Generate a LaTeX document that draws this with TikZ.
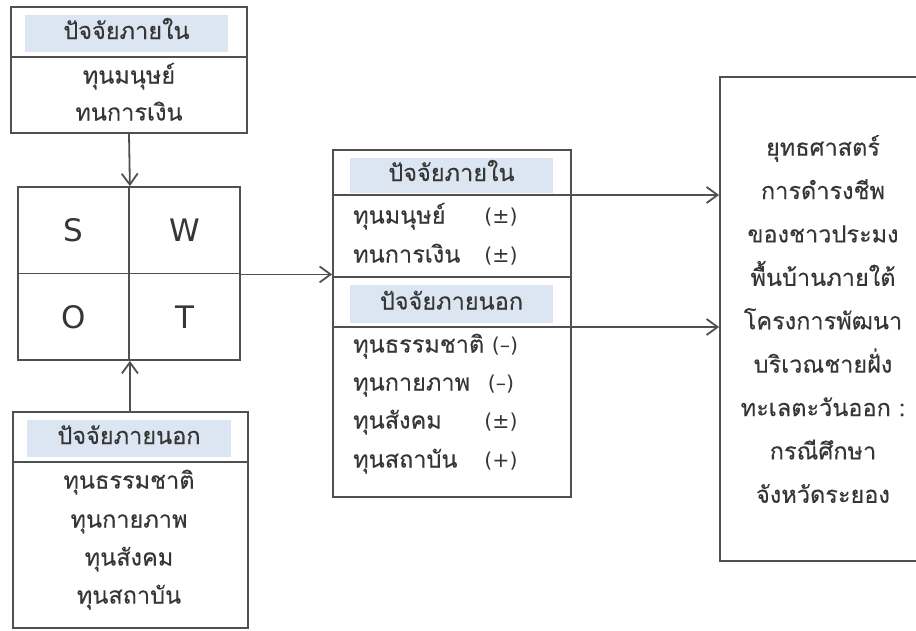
\documentclass[tikz,border=0pt]{standalone}
\usepackage{fontspec}
\newfontfamily\thai[Script=Thai,FakeBold=0.2]{Loma}
\newfontfamily\swotfam{DejaVu Sans}
\newcommand\thfont{\thai\fontsize{23.5}{26}\selectfont}
\newcommand\pmfont{\swotfam\fontsize{20.5}{24}\selectfont}
\usetikzlibrary{arrows.meta}
\definecolor{ln}{HTML}{505050}
\definecolor{hd}{HTML}{DCE6F2}
\definecolor{tx}{HTML}{363636}
\begin{document}
\begin{tikzpicture}[x=1pt,y=-1pt,
  line/.style={draw=ln,line width=1.8pt},
  box/.style={line,rectangle,inner sep=0pt},
  hdr/.style={fill=hd,inner sep=0pt,minimum width=203pt,font=\thfont,text=tx,text height=11pt,text depth=0pt},
  thtxt/.style={font=\thfont,text=tx,inner sep=0pt,text height=11pt,text depth=0pt},
  pm/.style={font=\pmfont,text=tx,inner sep=0pt,text height=11pt,text depth=0pt},
  cell/.style={box,minimum width=111pt,minimum height=86.5pt,font=\swotfam\fontsize{31}{36}\selectfont,text=tx},
  arr/.style={line,-{Straight Barb[length=11pt,width=16pt]}}
]
\fill[white] (0,0) rectangle (916,630);
\clip (0,0) rectangle (916,630);

% top-left box
\node[box,minimum width=236pt,minimum height=126pt] (tl) at (129,70) {};
\node[hdr,minimum height=37pt] (tlh) at (126.5,33.5) {ปัจจัยภายใน};
\draw[line] (11,57) -- (247,57);
\node[thtxt] (tl1) at (129,78) {ทุนมนุษย์};
\node[thtxt] (tl2) at (129,115) {ทนการเงิน};

% SWOT
\node[cell] (s) at (73.5,230.25) {S};
\node[cell] (w) at (184.5,230.25) {W};
\node[cell] (o) at (73.5,316.75) {O};
\node[cell] (t) at (184.5,316.75) {T};

% bottom-left box
\node[box,minimum width=235pt,minimum height=216pt] (bl) at (130.5,520) {};
\node[hdr,minimum height=37pt,minimum width=204pt] (blh) at (129,438.5) {ปัจจัยภายนอก};
\draw[line] (13,462) -- (248,462);
\node[thtxt] (bl1) at (129,483) {ทุนธรรมชาติ};
\node[thtxt] (bl2) at (129,522) {ทุนกายภาพ};
\node[thtxt] (bl3) at (129,560) {ทุนสังคม};
\node[thtxt] (bl4) at (129,598) {ทุนสถาบัน};

% middle boxes
\node[box,minimum width=238pt,minimum height=127pt] (mi) at (452,213.5) {};
\node[hdr,minimum height=35pt] (mih) at (451.5,175.5) {ปัจจัยภายใน};
\node[thtxt,anchor=west] (mi1) at (353,218) {ทุนมนุษย์};
\node[pm] (mi1p) at (501,218) {(±)};
\node[thtxt,anchor=west] (mi2) at (353,257) {ทนการเงิน};
\node[pm] (mi2p) at (501,257) {(±)};

\node[box,minimum width=238pt,minimum height=220pt] (mo) at (452,387) {};
\node[hdr,minimum height=38pt] (moh) at (451.5,304) {ปัจจัยภายนอก};
\node[thtxt,anchor=west] (mo1) at (353,347) {ทุนธรรมชาติ};
\node[pm] (mo1p) at (505,347) {(–)};
\node[thtxt,anchor=west] (mo2) at (353,385) {ทุนกายภาพ};
\node[pm] (mo2p) at (501,385) {(–)};
\node[thtxt,anchor=west] (mo3) at (353,423) {ทุนสังคม};
\node[pm] (mo3p) at (501,423) {(±)};
\node[thtxt,anchor=west] (mo4) at (353,462) {ทุนสถาบัน};
\node[pm] (mo4p) at (501,462) {(+)};

% right box
\node[box,minimum width=206pt,minimum height=484pt,align=center,text=tx,
      font=\thai\fontsize{23.5}{43.4}\selectfont] (r) at (823,319)
  {ยุทธศาสตร์\\การดำรงชีพ\\ของชาวประมง\\พื้นบ้านภายใต้\\โครงการพัฒนา\\บริเวณชายฝั่ง\\ทะเลตะวันออก :\\กรณีศึกษา\\จังหวัดระยอง};

% connectors
\coordinate (d1) at (333,195);
\coordinate (d2) at (333,327);
\draw[arr] (tl.south) -- (s.north east);
\draw[arr] (o.south east |- bl.north) -- (o.south east);
\draw[arr] (w.south east) -- (w.south east -| mi.west);
\draw[arr] (d1) -- (d1 -| r.west);
\draw[arr] (d2) -- (d2 -| r.west);
\end{tikzpicture}
\end{document}
